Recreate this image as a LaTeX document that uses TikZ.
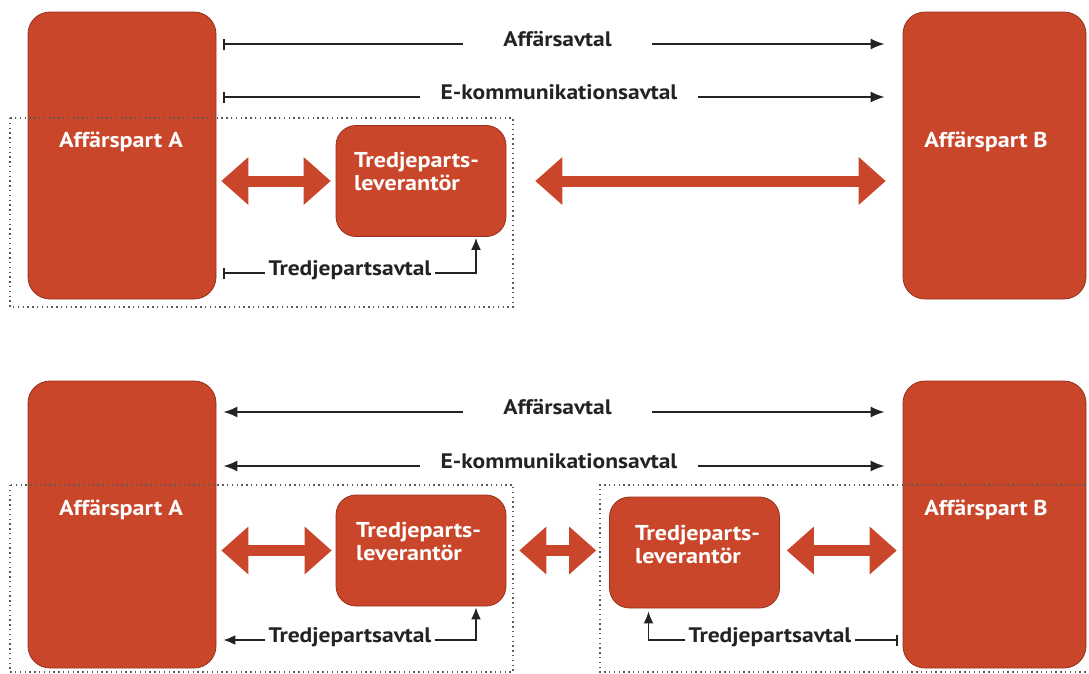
\documentclass[tikz,border=0pt]{standalone}
\usepackage{fontspec}
\setmainfont{PT Sans}[FakeStretch=1.12]
\usetikzlibrary{arrows.meta}
\definecolor{rust}{RGB}{202,70,42}
\definecolor{rustdark}{RGB}{150,48,28}
\definecolor{ink}{RGB}{35,35,35}
\definecolor{dotgray}{RGB}{90,90,90}
\begin{document}
\begin{tikzpicture}[x=1pt,y=-1pt,
  party/.style={fill=rust,draw=rustdark,line width=0.8pt,rounded corners=22pt,inner sep=0pt},
  prov/.style={fill=rust,draw=rustdark,line width=0.8pt,rounded corners=20pt,inner sep=0pt,minimum width=170pt,minimum height=111pt},
  wtext/.style={text=white,font=\fontsize{21.5}{23.5}\selectfont\bfseries,inner sep=0pt},
  btext/.style={text=ink,font=\fontsize{21}{23}\selectfont\bfseries,inner sep=0pt},
  contract/.style={draw=ink,line width=1.8pt},
  fat/.style={draw=rust,line width=11pt,
    {Triangle[length=27pt,width=48pt,line width=0pt]}-{Triangle[length=27pt,width=48pt,line width=0pt]}},
  frame/.style={draw=dotgray,line width=1.4pt,dash pattern=on 1.4pt off 3.4pt}
]
\useasboundingbox (0,0) rectangle (1089,673);

% ===================== top panel =====================
\node[party,minimum width=188pt,minimum height=287pt] (A1) at (122,155.5) {};
\node[party,minimum width=183pt,minimum height=287pt] (B1) at (994.5,155.5) {};
\node[prov] (T1) at (421,181) {};
\node[wtext,anchor=base] (A1t) at (121,147) {Affärspart A};
\node[wtext,anchor=base] (B1t) at (986,147) {Affärspart B};
\node[wtext,anchor=north west,align=left] (T1t) at (354,152) {Tredjeparts-\\leverantör};

\node[btext,anchor=mid,minimum width=189pt] (aff1) at (557.5,44) {Affärsavtal};
\draw[contract,{Bar[width=11pt]}-] ([xshift=7pt]A1.east |- aff1.mid) -- (aff1.mid west);
\draw[contract,-{Latex[length=14pt,width=11pt]}] (aff1.mid east) -- ([xshift=-18pt]B1.west |- aff1.mid);

\node[btext,anchor=mid,minimum width=278pt] (ek1) at (559,97) {E-kommunikationsavtal};
\draw[contract,{Bar[width=11pt]}-] ([xshift=7pt]A1.east |- ek1.mid) -- (ek1.mid west);
\draw[contract,-{Latex[length=14pt,width=11pt]}] (ek1.mid east) -- ([xshift=-18pt]B1.west |- ek1.mid);

\draw[fat,shorten <=5pt,shorten >=5pt] (A1.east |- T1.west) -- (T1.west);
\draw[fat,shorten <=29pt,shorten >=17pt] (T1.east) -- (B1.west |- T1.east);

\node[btext,anchor=mid,inner xsep=3pt] (tp1) at (350,273) {Tredjepartsavtal};
\draw[contract,{Bar[width=11pt]}-] ([xshift=7pt]A1.east |- tp1.mid) -- (tp1.mid west);
\draw[contract,-{Latex[length=12pt,width=10pt]}] (tp1.mid east) -| ([xshift=55pt,yshift=-1pt]T1.south);

\draw[frame] (10,118) rectangle (513,307);

% ===================== bottom panel =====================
\node[party,minimum width=188pt,minimum height=287pt] (A2) at (122,524.5) {};
\node[party,minimum width=183pt,minimum height=287pt] (B2) at (994.5,524.5) {};
\node[prov] (T2) at (421,550.5) {};
\node[prov] (T3) at (694.5,552.5) {};
\node[wtext,anchor=base] (A2t) at (121,515) {Affärspart A};
\node[wtext,anchor=base] (B2t) at (986,515) {Affärspart B};
\node[wtext,anchor=north west,align=left] (T2t) at (356,522) {Tredjeparts-\\leverantör};
\node[wtext,anchor=north west,align=left] (T3t) at (635,525) {Tredjeparts-\\leverantör};

\node[btext,anchor=mid,minimum width=189pt] (aff2) at (557.5,412) {Affärsavtal};
\draw[contract,{Latex[length=14pt,width=11pt]}-] ([xshift=7pt]A2.east |- aff2.mid) -- (aff2.mid west);
\draw[contract,-{Latex[length=14pt,width=11pt]}] (aff2.mid east) -- ([xshift=-18pt]B2.west |- aff2.mid);

\node[btext,anchor=mid,minimum width=278pt] (ek2) at (559,466) {E-kommunikationsavtal};
\draw[contract,{Latex[length=14pt,width=11pt]}-] ([xshift=7pt]A2.east |- ek2.mid) -- (ek2.mid west);
\draw[contract,-{Latex[length=14pt,width=11pt]}] (ek2.mid east) -- ([xshift=-18pt]B2.west |- ek2.mid);

\draw[fat,shorten <=5pt,shorten >=4pt] (A2.east |- T2.west) -- (T2.west);
\draw[fat,shorten <=13pt,shorten >=13pt] (T2.east) -- (T3.west |- T2.east);
\draw[fat,shorten <=7pt,shorten >=6pt] (T3.east |- T2.east) -- (B2.west |- T2.east);

\node[btext,anchor=mid,inner xsep=3pt] (tp2) at (350,640) {Tredjepartsavtal};
\draw[contract,{Latex[length=12pt,width=10pt]}-] ([xshift=7pt]A2.east |- tp2.mid) -- (tp2.mid west);
\draw[contract,-{Latex[length=12pt,width=10pt]}] (tp2.mid east) -| ([xshift=55pt,yshift=-1pt]T2.south);

\node[btext,anchor=mid,inner xsep=3pt] (tp3) at (770,640) {Tredjepartsavtal};
\draw[contract,{Bar[width=11pt]}-] ([xshift=-5pt]B2.west |- tp3.mid) -- (tp3.mid east);
\draw[contract,-{Latex[length=12pt,width=10pt]}] (tp3.mid west) -| ([xshift=-46pt,yshift=-3pt]T3.south);

\draw[frame] (10,485) rectangle (513,672);
\draw[frame] (1100,485) -- (600,485) -- (600,672) -- (1100,672);
\end{tikzpicture}
\end{document}
